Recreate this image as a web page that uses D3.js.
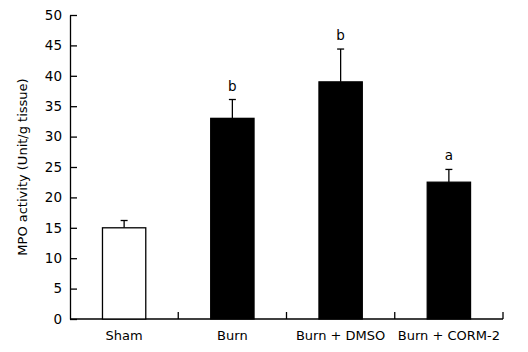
<!DOCTYPE html>
<html>
<head>
<meta charset="utf-8">
<script src="https://cdn.jsdelivr.net/npm/d3@7"></script>
<style>
  body { margin: 0; background: #fff; }
  text { font-family: "DejaVu Sans", Verdana, sans-serif; fill: #000; }
</style>
</head>
<body>
<div id="chart"></div>
<script>
// data
var groups = ["Sham", "Burn", "Burn + DMSO", "Burn + CORM-2"];
var means = [15, 33, 39, 22.5];
var errors = [1.2, 3.1, 5.4, 2.1];
var sigLabels = ["", "b", "b", "a"];
var fills = ["#fff", "#000", "#000", "#000"];
var yTicks = [0, 5, 10, 15, 20, 25, 30, 35, 40, 45, 50];

var margin = { top: 15, right: 25, bottom: 33, left: 70 },
    width = 528 - margin.left - margin.right,
    height = 352 - margin.top - margin.bottom;

var svg = d3.select("#chart")
  .append("svg")
  .attr("width", 528)
  .attr("height", 352)
  .append("g")
  .attr("transform", "translate(" + margin.left + "," + margin.top + ")");

var x = d3.scaleBand()
  .domain(groups)
  .range([0, width]);

var y = d3.scaleLinear()
  .domain([0, 50])
  .range([height, 0]);

// y axis, ticks pointing inward
var yAxis = svg.append("g")
  .call(d3.axisLeft(y).tickValues(yTicks).tickSizeInner(-7).tickSizeOuter(0).tickPadding(8));
yAxis.select(".domain").attr("stroke", "#000").attr("stroke-width", 1.3);
yAxis.selectAll(".tick line").attr("stroke", "#000").attr("stroke-width", 1.3);
yAxis.selectAll(".tick text").style("font-size", "13.5px");

// x axis: baseline with separators at the group edges
var step = x.step();
svg.append("line")
  .attr("x1", 0).attr("x2", width)
  .attr("y1", height).attr("y2", height)
  .attr("stroke", "#000").attr("stroke-width", 1.3);

svg.selectAll(".sep")
  .data(groups)
  .enter()
  .append("line")
  .attr("class", "sep")
  .attr("x1", function(d) { return x(d) + step; })
  .attr("x2", function(d) { return x(d) + step; })
  .attr("y1", height).attr("y2", height - 7)
  .attr("stroke", "#000").attr("stroke-width", 1.3);

function cx(i) { return x(groups[i]) + step / 2; }

svg.selectAll(".xlabel")
  .data(groups)
  .enter()
  .append("text")
  .attr("class", "xlabel")
  .attr("x", function(d, i) { return cx(i); })
  .attr("y", height + 21)
  .attr("text-anchor", "middle")
  .style("font-size", "13px")
  .text(function(d) { return d; });

var bw = step * 0.4;

// error bars (drawn first so bar covers the lower part)
svg.selectAll(".err")
  .data(means)
  .enter()
  .append("line")
  .attr("class", "err")
  .attr("x1", function(d, i) { return cx(i); })
  .attr("x2", function(d, i) { return cx(i); })
  .attr("y1", function(d) { return y(d); })
  .attr("y2", function(d, i) { return y(d + errors[i]); })
  .attr("stroke", "#000").attr("stroke-width", 1.3);

svg.selectAll(".cap")
  .data(means)
  .enter()
  .append("line")
  .attr("class", "cap")
  .attr("x1", function(d, i) { return cx(i) - 3.5; })
  .attr("x2", function(d, i) { return cx(i) + 3.5; })
  .attr("y1", function(d, i) { return y(d + errors[i]); })
  .attr("y2", function(d, i) { return y(d + errors[i]); })
  .attr("stroke", "#000").attr("stroke-width", 1.3);

svg.selectAll(".bar")
  .data(means)
  .enter()
  .append("rect")
  .attr("class", "bar")
  .attr("x", function(d, i) { return cx(i) - bw / 2; })
  .attr("y", function(d) { return y(d); })
  .attr("width", bw)
  .attr("height", function(d) { return height - y(d); })
  .attr("fill", function(d, i) { return fills[i]; })
  .attr("stroke", "#000")
  .attr("stroke-width", 1.3);

svg.selectAll(".sig")
  .data(means)
  .enter()
  .append("text")
  .attr("class", "sig")
  .attr("x", function(d, i) { return cx(i); })
  .attr("y", function(d, i) { return y(d + errors[i]) - 9; })
  .attr("text-anchor", "middle")
  .style("font-size", "13.5px")
  .text(function(d, i) { return sigLabels[i]; });

// y axis title
svg.append("text")
  .attr("transform", "rotate(-90)")
  .attr("x", -height / 2)
  .attr("y", -43)
  .attr("text-anchor", "middle")
  .style("font-size", "13px")
  .text("MPO activity (Unit/g tissue)");
</script>
</body>
</html>
